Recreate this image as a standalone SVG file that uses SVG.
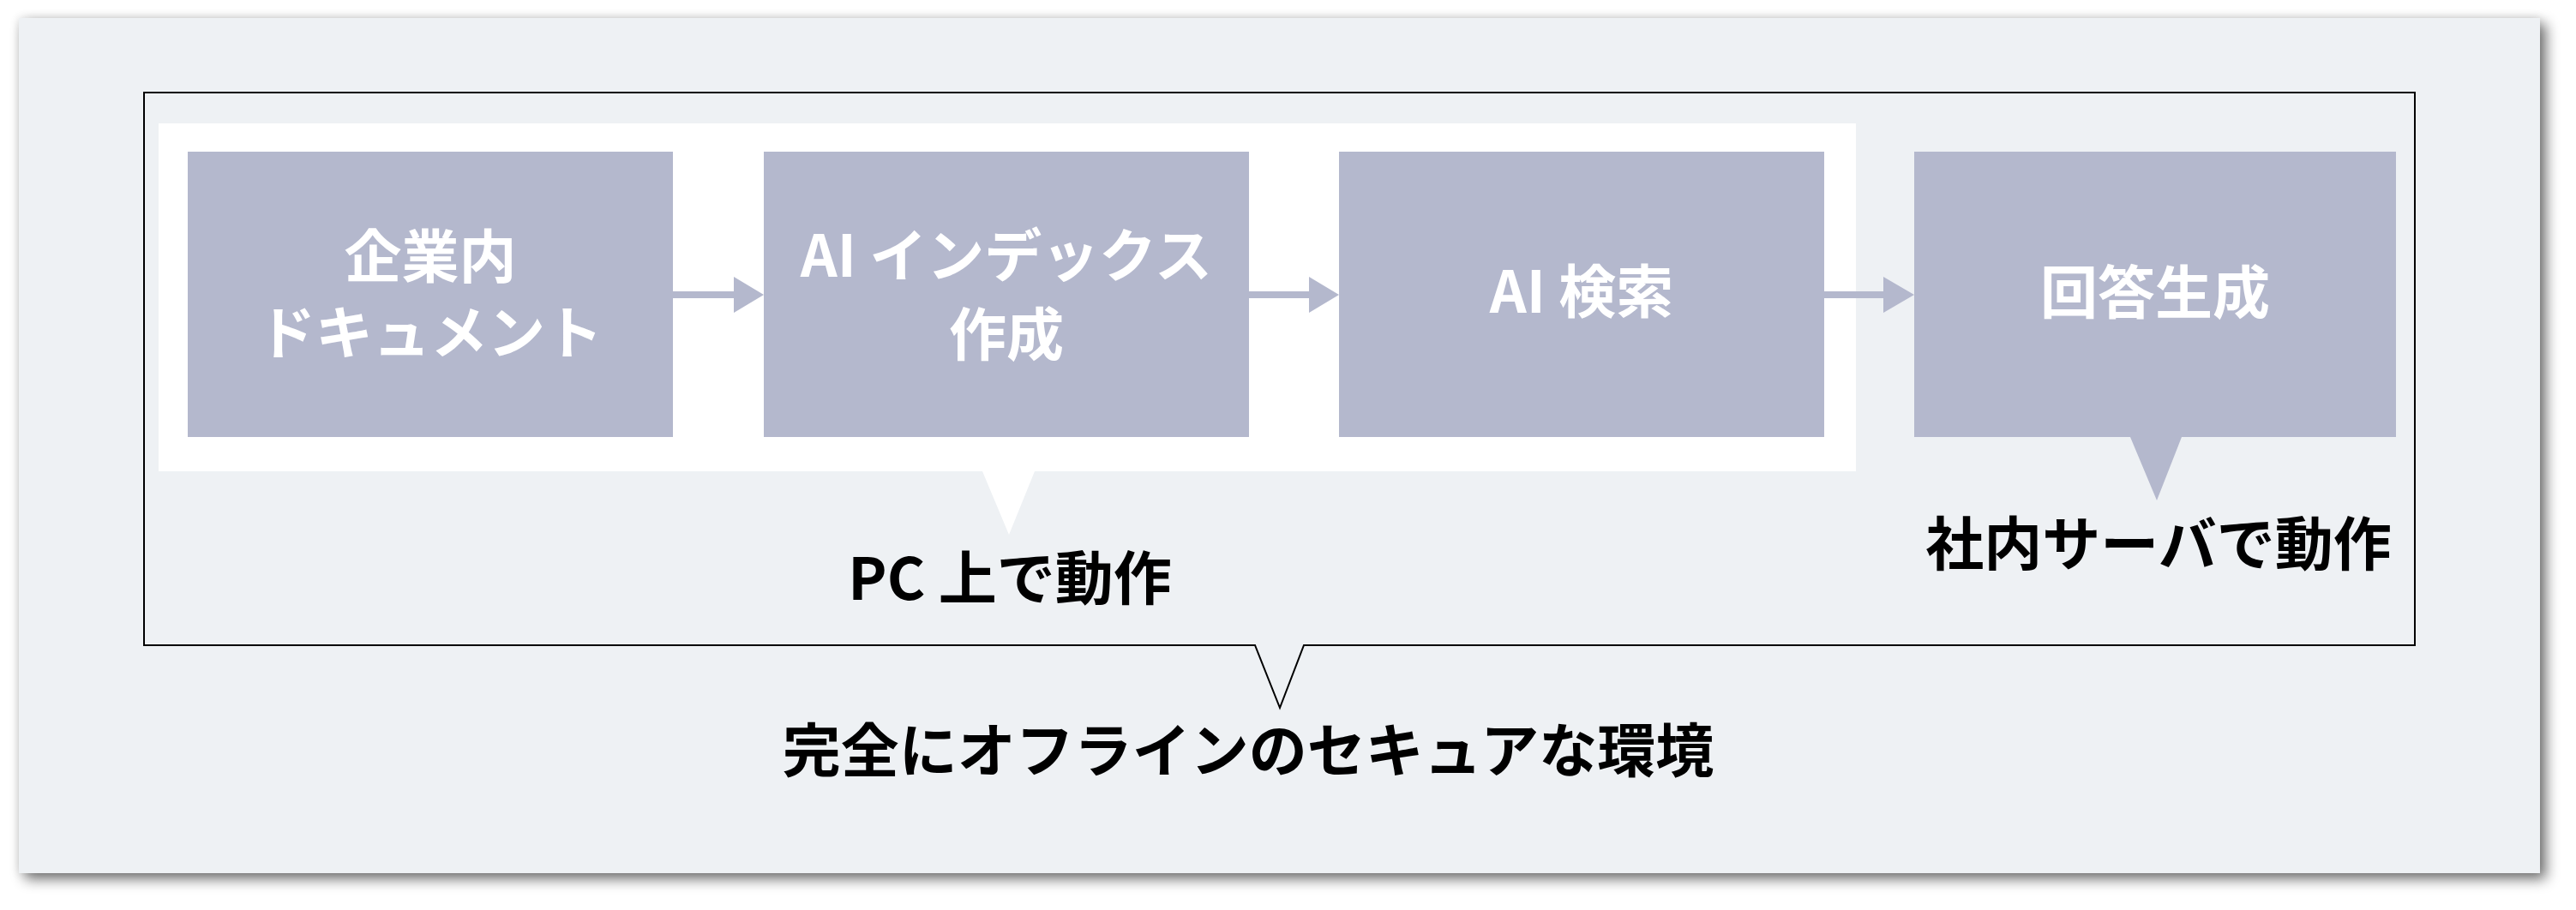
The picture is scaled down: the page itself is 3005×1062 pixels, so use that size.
<svg xmlns="http://www.w3.org/2000/svg" width="3005" height="1062" viewBox="0 0 3005 1062">
  <defs>
    <filter id="shadow" x="-5%" y="-10%" width="110%" height="125%">
      <feGaussianBlur in="SourceAlpha" stdDeviation="8" result="b1"/>
      <feOffset in="b1" dx="7" dy="7" result="o1"/>
      <feComponentTransfer in="o1" result="s1"><feFuncA type="linear" slope="0.55"/></feComponentTransfer>
      <feGaussianBlur in="SourceAlpha" stdDeviation="6" result="b2"/>
      <feComponentTransfer in="b2" result="s2"><feFuncA type="linear" slope="0.12"/></feComponentTransfer>
      <feMerge><feMergeNode in="s2"/><feMergeNode in="s1"/><feMergeNode in="SourceGraphic"/></feMerge>
    </filter>
  </defs>
  <style>
    .node { fill: #B4B8CD; }
    .ntext { font-family: "Noto Sans CJK JP", "Noto Sans", sans-serif; font-weight: 700; font-size: 67px; fill: #FFFFFF; text-anchor: middle; }
    .label { font-family: "Noto Sans CJK JP", "Noto Sans", sans-serif; font-weight: 700; font-size: 68px; fill: #000000; text-anchor: middle; }
    .conn { fill: #B4B8CD; }
  </style>
  <rect width="3005" height="1062" fill="#FFFFFF"/>
  <g id="panel">
    <rect x="22" y="21" width="2941" height="998" fill="#EEF1F4" filter="url(#shadow)"/>
  </g>
  <g id="secure-env">
    <path d="M168,108 H2817 V753 H1521 L1493,826 L1464,753 H168 Z" fill="none" stroke="#000000" stroke-width="2"/>
    <text class="label" x="1456" y="901">完全にオフラインのセキュアな環境</text>
  </g>
  <g id="pc-group">
    <path d="M185,144 H2165 V550 H1207 L1177,624 L1146,550 H185 Z" fill="#FFFFFF"/>
    <text class="label" x="1178" y="700">PC 上で動作</text>
  </g>
  <g id="node-docs">
    <rect class="node" x="219" y="177" width="566" height="333"/>
    <text class="ntext" x="502" y="324">企業内</text>
    <text class="ntext" x="502" y="413">ドキュメント</text>
  </g>
  <g id="node-index">
    <rect class="node" x="891" y="177" width="566" height="333"/>
    <text class="ntext" x="1174" y="323">AI インデックス</text>
    <text class="ntext" x="1174" y="415">作成</text>
  </g>
  <g id="node-search">
    <rect class="node" x="1562" y="177" width="566" height="333"/>
    <text class="ntext" x="1845" y="365">AI 検索</text>
  </g>
  <g id="node-answer">
    <path class="node" d="M2233,177 H2795 V510 H2545 L2516,584 L2485,510 H2233 Z"/>
    <text class="ntext" x="2514" y="366">回答生成</text>
    <text class="label" x="2518" y="660">社内サーバで動作</text>
  </g>
  <g id="connectors">
    <path class="conn" d="M785,340 H856 V323 L891,344 L856,365 V348 H785 Z"/>
    <path class="conn" d="M1457,340 H1527 V323 L1562,344 L1527,365 V348 H1457 Z"/>
    <path class="conn" d="M2128,340 H2197 V323 L2233,344 L2197,365 V348 H2128 Z"/>
  </g>
</svg>
